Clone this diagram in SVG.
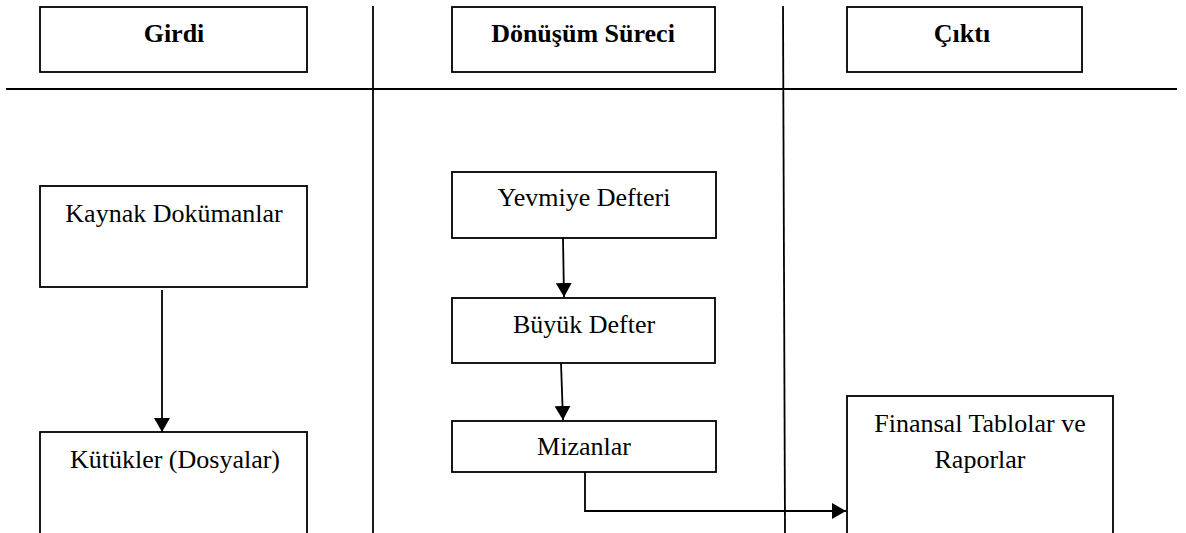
<svg xmlns="http://www.w3.org/2000/svg" width="1186" height="533" viewBox="0 0 1186 533">
<style>
.box{fill:#fff;stroke:#000;stroke-width:1.8}
.ln{stroke:#000;stroke-width:1.8;fill:none}
.t{font-family:"Liberation Serif","Times New Roman",serif;font-size:26px;fill:#000;text-anchor:middle}
.h{font-weight:bold}
</style>
<defs>
<marker id="arr" viewBox="0 0 14 16" refX="14" refY="8" markerWidth="14" markerHeight="16" markerUnits="userSpaceOnUse" orient="auto">
<path d="M0,0 L14,8 L0,16 Z" fill="#000"/>
</marker>
</defs>
<g id="lanes">
<line class="ln" x1="6" y1="89" x2="1177" y2="89"/>
<line class="ln" x1="373" y1="6" x2="373" y2="533"/>
<line class="ln" x1="783" y1="6" x2="785" y2="533"/>
</g>
<g id="h-girdi"><rect class="box" x="40" y="7" width="267" height="65"/><text class="t h" x="174" y="42">Girdi</text></g>
<g id="h-donusum"><rect class="box" x="452" y="7" width="263" height="65"/><text class="t h" x="583" y="42">Dönüşüm Süreci</text></g>
<g id="h-cikti"><rect class="box" x="847" y="7" width="235" height="65"/><text class="t h" x="962" y="42">Çıktı</text></g>
<g id="n-kaynak"><rect class="box" x="40" y="186" width="267" height="101"/><text class="t" x="174" y="222">Kaynak Dokümanlar</text></g>
<g id="n-kutukler"><rect class="box" x="40" y="432" width="267" height="110"/><text class="t" x="175" y="468">Kütükler (Dosyalar)</text></g>
<g id="n-yevmiye"><rect class="box" x="452" y="172" width="264" height="66"/><text class="t" x="584" y="206">Yevmiye Defteri</text></g>
<g id="n-buyuk"><rect class="box" x="452" y="298" width="263" height="65"/><text class="t" x="584" y="333">Büyük Defter</text></g>
<g id="n-mizan"><rect class="box" x="452" y="421" width="264" height="51"/><text class="t" x="584" y="455">Mizanlar</text></g>
<g id="n-finansal"><rect class="box" x="847" y="396" width="266" height="146"/><text class="t" x="980" y="432">Finansal Tablolar ve</text><text class="t" x="980" y="468">Raporlar</text></g>
<g id="connectors">
<line class="ln" x1="162" y1="290" x2="162" y2="432" marker-end="url(#arr)"/>
<line class="ln" x1="563" y1="238" x2="564" y2="297" marker-end="url(#arr)"/>
<line class="ln" x1="561" y1="363" x2="563" y2="420" marker-end="url(#arr)"/>
<polyline class="ln" points="585,472 585,511 846,511" marker-end="url(#arr)"/>
</g>
</svg>
